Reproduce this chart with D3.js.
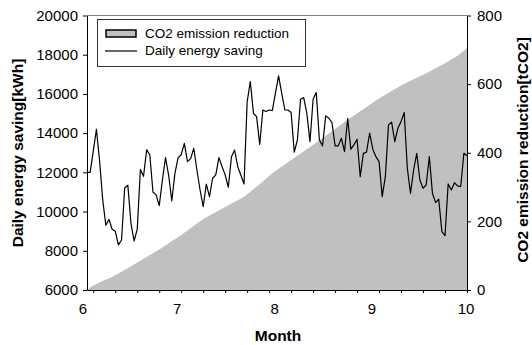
<!DOCTYPE html>
<html>
<head>
<meta charset="utf-8">
<script src="https://cdn.jsdelivr.net/npm/d3@7"></script>
<style>
  body { margin: 0; background: #fff; }
</style>
</head>
<body>
<div id="chart"></div>
<script>
// daily energy saving [kWh], June 1 .. Sep 30 (one value per day)
const dailySaving = [
  12000, 12000, 13100, 14200, 12600, 10600, 9300, 9600, 9100, 9000,
  8300, 8550, 11200, 11350, 9400, 8500, 9100, 12150, 11800, 13150,
  12900, 11000, 10850, 10300, 11600, 12750, 11850, 10550, 11950, 12750,
  12900, 13480, 12550, 12700, 13230, 12120, 11100, 10250, 11400, 10760,
  11700, 11870, 12750, 12300, 11870, 11240, 12800, 13140, 12290, 11850,
  11410, 15610, 16630, 15010, 14840, 13430, 15180, 15100, 15180, 15150,
  16040, 16920, 16040, 15180, 15180, 15050, 13030, 13650, 15730, 15810,
  15010, 13570, 15730, 16070, 13650, 13350, 14880, 14760, 14540, 13350,
  13350, 13740, 13060, 14760, 13180, 13400, 13690, 11780, 12970, 13030,
  14000, 13180, 12800, 12550, 10760, 11780, 14420, 14560, 13570, 14250,
  14590, 15050, 12210, 10930, 12120, 12970, 11610, 11190, 11360, 12800,
  10930, 10460, 10630, 8980, 8770, 11410, 11100, 11470, 11310, 11270,
  12970, 12850
];

// cumulative CO2 emission reduction [tCO2], read at these day indices
const co2Days =   [0, 2,  5,  8,  12, 16, 23,  30,  37,  44,  50,  55,  59,  65,  69,  73,  78,  83,  89,  94,  100, 104, 108, 114, 118, 121];
const co2Values = [0, 13, 26, 38, 58, 80, 118, 160, 207, 242, 272, 308, 340, 379, 404, 430, 463, 496, 533, 564, 596, 614, 632, 661, 683, 705];

const monthDays = [0, 30, 61, 92, 121];
const monthLabels = ["6", "7", "8", "9", "10"];
const weekDays = d3.range(2, 122, 7);

const leftTicks = [6000, 8000, 10000, 12000, 14000, 16000, 18000, 20000];
const rightTicks = [0, 200, 400, 600, 800];

const font = "'Liberation Sans', Arial, sans-serif";

const svg = d3.select("#chart")
  .append("svg")
  .attr("width", 532)
  .attr("height", 345)
  .style("font-family", font);

const x = d3.scaleLinear().domain([0, 121]).range([87, 467]);
const yL = d3.scaleLinear().domain([6000, 20000]).range([290, 15.5]);
const yR = d3.scaleLinear().domain([0, 800]).range([290, 15.5]);

// CO2 area
const co2 = co2Days.map((d, i) => [d, co2Values[i]]);
const area = d3.area()
  .x(d => x(d[0]))
  .y0(yR(0))
  .y1(d => yR(d[1]));

svg.append("path")
  .datum(co2)
  .attr("d", area)
  .attr("fill", "#c0c0c0");

// daily line
const line = d3.line()
  .x((d, i) => x(i))
  .y(d => yL(d));

svg.append("path")
  .datum(dailySaving)
  .attr("d", line)
  .attr("fill", "none")
  .attr("stroke", "#000")
  .attr("stroke-width", 1.2)
  .attr("stroke-linejoin", "round");

// plot frame top
svg.append("line")
  .attr("x1", 87).attr("x2", 467)
  .attr("y1", 15.5).attr("y2", 15.5)
  .attr("stroke", "#808080")
  .attr("stroke-width", 1);

// left axis
const leftAxis = svg.append("g")
  .attr("transform", "translate(87,0)")
  .call(d3.axisLeft(yL).tickValues(leftTicks).tickFormat(d3.format("d"))
    .tickSize(4).tickPadding(5).tickSizeOuter(0));

// right axis
const rightAxis = svg.append("g")
  .attr("transform", "translate(467,0)")
  .call(d3.axisRight(yR).tickValues(rightTicks).tickFormat(d3.format("d"))
    .tickSize(4).tickPadding(6).tickSizeOuter(0));

// bottom axis: weekly ticks without labels
const bottomAxis = svg.append("g")
  .attr("transform", "translate(0,290)")
  .call(d3.axisBottom(x).tickValues(weekDays).tickSize(3).tickFormat("").tickSizeOuter(0));

// month labels
svg.append("g")
  .selectAll("text")
  .data(monthDays)
  .join("text")
  .attr("x", d => x(d) - (d === 121 ? 1 : 4))
  .attr("y", 314)
  .attr("text-anchor", "middle")
  .attr("font-size", 15)
  .attr("fill", "#000")
  .text((d, i) => monthLabels[i]);

[leftAxis, rightAxis, bottomAxis].forEach(g => {
  g.select(".domain").attr("stroke", "#000").attr("stroke-width", 1);
  g.selectAll(".tick line").attr("stroke", "#000");
  g.selectAll(".tick text")
    .attr("font-size", 15)
    .attr("font-family", font)
    .attr("fill", "#000");
});

// axis titles
svg.append("text")
  .text("Daily energy saving[kWh]")
  .attr("transform", "translate(23,153) rotate(-90)")
  .attr("text-anchor", "middle")
  .attr("font-size", 15.5)
  .attr("font-weight", 700);

svg.append("text")
  .text("CO2 emission reduction[tCO2]")
  .attr("transform", "translate(528,150) rotate(-90)")
  .attr("text-anchor", "middle")
  .attr("font-size", 15.5)
  .attr("font-weight", 700);

svg.append("text")
  .text("Month")
  .attr("x", 278)
  .attr("y", 341)
  .attr("text-anchor", "middle")
  .attr("font-size", 15.5)
  .attr("font-weight", 700);

// legend
const legend = svg.append("g").attr("transform", "translate(97,19)");

legend.append("rect")
  .attr("x", 0.5).attr("y", 0.5)
  .attr("width", 208).attr("height", 47)
  .attr("fill", "#fff")
  .attr("stroke", "#333");

legend.append("rect")
  .attr("x", 9).attr("y", 11)
  .attr("width", 30).attr("height", 7)
  .attr("fill", "#c0c0c0")
  .attr("stroke", "#000")
  .attr("stroke-width", 1.5);

legend.append("line")
  .attr("x1", 8).attr("x2", 40)
  .attr("y1", 32).attr("y2", 32)
  .attr("stroke", "#000")
  .attr("stroke-width", 1.2);

legend.append("text")
  .text("CO2 emission reduction")
  .attr("x", 48).attr("y", 19)
  .attr("font-size", 13.5);

legend.append("text")
  .text("Daily energy saving")
  .attr("x", 48).attr("y", 36)
  .attr("font-size", 13.5);
</script>
</body>
</html>
